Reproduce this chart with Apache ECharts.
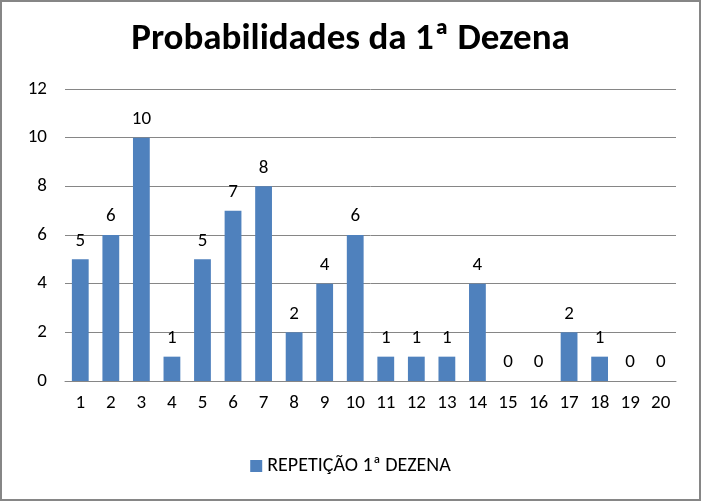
<!DOCTYPE html>
<html><head><meta charset="utf-8">
<script src="https://cdn.jsdelivr.net/npm/echarts@6/dist/echarts.min.js"></script>
<style>html,body{margin:0;padding:0;background:#fff}#c{width:701px;height:501px;box-sizing:border-box;border:2px solid #868686}</style>
</head><body><div id="c"></div>
<script>
const categories = ['1','2','3','4','5','6','7','8','9','10','11','12','13','14','15','16','17','18','19','20'];
const values = [5,6,10,1,5,7,8,2,4,6,1,1,1,4,0,0,2,1,0,0];
const seriesName = 'REPETIÇÃO 1ª DEZENA';
const titleText = 'Probabilidades da 1ª Dezena';
const chart = echarts.init(document.getElementById('c'), null, {renderer:'canvas'});
const font = "Carlito, 'Open Sans', sans-serif";
chart.setOption({
  animation:false,
  title:{text:titleText,left:'center',top:14,textStyle:{fontFamily:font,fontWeight:'bold',fontSize:37,color:'#000'}},
  grid:{left:63,right:23,top:87,bottom:118,containLabel:false},
  legend:{bottom:18,left:'center',itemWidth:12,itemHeight:12,itemGap:10,icon:'rect',textStyle:{fontFamily:font,fontSize:20,color:'#000'}},
  xAxis:{type:'category',data:categories,axisTick:{show:false},axisLine:{lineStyle:{color:'#868686'}},axisLabel:{fontFamily:font,fontSize:19,color:'#000',margin:13}},
  yAxis:{type:'value',min:0,max:12,interval:2,axisLine:{show:false},axisTick:{show:false},splitLine:{lineStyle:{color:'#868686'}},axisLabel:{fontFamily:font,fontSize:19,color:'#000',margin:18}},
  series:[{name:seriesName,type:'bar',data:values,barWidth:'55%',itemStyle:{color:'#4F81BD'},label:{show:true,position:'top',distance:9,fontFamily:font,fontSize:19,color:'#000'}}]
});
</script></body></html>
